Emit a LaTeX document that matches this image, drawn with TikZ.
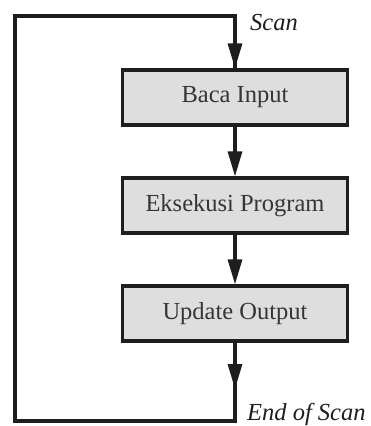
\documentclass[tikz,border=0pt]{standalone}
\usepackage{fontspec}
\setmainfont{Liberation Serif}
\usetikzlibrary{arrows.meta}
\definecolor{boxfill}{HTML}{DEDEDE}
\definecolor{ink}{HTML}{1E1E1E}
\tikzset{
  stepbox/.style={draw=ink, line width=3.2pt, fill=boxfill, minimum width=225pt, minimum height=55pt, inner sep=0pt, font=\fontsize{24.5}{29}\selectfont, text=ink!90},
  flow/.style={draw=ink, line width=3.2pt},
  tip/.style={-{Triangle[length=25pt,width=14pt]}},
  lbl/.style={font=\fontsize{24.5}{29}\selectfont\itshape, text=ink, inner sep=0pt}
}
\begin{document}
\begin{tikzpicture}[x=1pt,y=-1pt]
\useasboundingbox (0,0) rectangle (370,426);
\node[stepbox] (b1) at (235,97.5) {Baca Input};
\node[stepbox] (b2) at (235,205.5) {Eksekusi Program};
\node[stepbox] (b3) at (235,313.5) {Update Output};
\coordinate (tr) at (235,16);
\coordinate (tl) at (15,16);
\coordinate (bl) at (15,421);
\coordinate (br) at (235,421);
\coordinate (mid) at (235,389);
\draw[flow, line join=miter] (b3.south) -- (br) -- (bl) -- (tl) -- (tr) -- (b1.north);
\draw[flow, tip] (tr) -- (b1.north);
\draw[flow, tip] (b1.south) -- (b2.north);
\draw[flow, tip] (b2.south) -- (b3.north);
\draw[flow, tip] (b3.south) -- (mid);
\node[lbl, anchor=base west] (scan) at (250,30) {Scan};
\node[lbl, anchor=base west] (eos) at (247,420) {End of Scan};
\end{tikzpicture}
\end{document}
